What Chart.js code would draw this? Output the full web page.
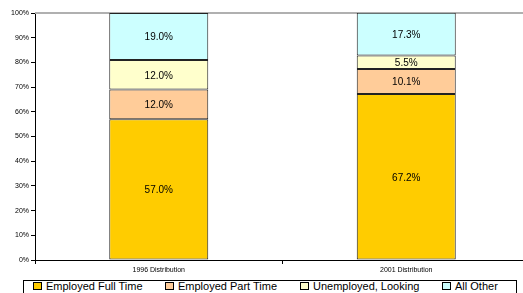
<!DOCTYPE html>
<html lang="en">
<head>
    <meta charset="UTF-8">
    <title>Distribution</title>
    <script src="https://cdn.jsdelivr.net/npm/chart.js"></script>
    <style>
        body {
            margin: 0;
            width: 523px;
            height: 293px;
            overflow: hidden;
            background: white;
            font-family: 'Liberation Sans', Arial, sans-serif;
            position: relative;
        }
        #wrap {
            position: absolute;
            left: 0;
            top: 0;
            width: 530px;
            height: 293px;
        }
        #legend {
            position: absolute;
            left: 23px;
            top: 280px;
            width: 494px;
            height: 20px;
            border: 1px solid #000;
            box-sizing: border-box;
            background: white;
            font-size: 11px;
            line-height: 11px;
            color: #000;
        }
        .item {
            position: absolute;
            top: 0;
            white-space: nowrap;
        }
        .sw {
            display: inline-block;
            width: 7px;
            height: 6px;
            border: 1px solid #000;
            margin-right: 4px;
            vertical-align: 0px;
        }
    </style>
</head>
<body>
    <div id="wrap"><canvas id="chart" width="530" height="293"></canvas></div>
    <div id="legend"></div>

    <script>
        const categories = ['1996 Distribution', '2001 Distribution'];
        const seriesNames = ['Employed Full Time', 'Employed Part Time', 'Unemployed, Looking', 'All Other'];
        const fullTime = [57.0, 67.2];
        const partTime = [12.0, 10.1];
        const unemployed = [12.0, 5.5];
        const allOther = [19.0, 17.3];
        const colors = ['#FFCC00', '#FFCC99', '#FFFFCC', '#CCFFFF'];
        const legendX = [9, 141, 276, 418];

        const seriesData = [fullTime, partTime, unemployed, allOther];

        const legend = document.getElementById('legend');
        seriesNames.forEach((name, i) => {
            const div = document.createElement('div');
            div.className = 'item';
            div.style.left = legendX[i] + 'px';
            div.innerHTML = '<span class="sw" style="background:' + colors[i] + '"></span>' + name;
            legend.appendChild(div);
        });

        const barLabels = {
            id: 'barLabels',
            afterDatasetsDraw(chart) {
                const ctx = chart.ctx;
                ctx.save();
                ctx.font = '10px "Liberation Sans", Arial, sans-serif';
                ctx.fillStyle = '#000';
                ctx.textAlign = 'center';
                ctx.textBaseline = 'middle';
                chart.data.datasets.forEach((ds, i) => {
                    chart.getDatasetMeta(i).data.forEach((bar, j) => {
                        const mid = (bar.y + bar.base) / 2;
                        ctx.fillText(ds.data[j].toFixed(1) + '%', bar.x, mid + 1);
                    });
                });
                ctx.restore();
            }
        };

        const topLine = {
            id: 'topLine',
            beforeDatasetsDraw(chart) {
                const a = chart.chartArea;
                const ctx = chart.ctx;
                ctx.save();
                ctx.strokeStyle = '#b0b0b0';
                ctx.lineWidth = 2;
                ctx.beginPath();
                ctx.moveTo(a.left, a.top);
                ctx.lineTo(a.right, a.top);
                ctx.stroke();
                ctx.restore();
            }
        };

        new Chart(document.getElementById('chart'), {
            type: 'bar',
            data: {
                labels: categories,
                datasets: seriesData.map((d, i) => ({
                    label: seriesNames[i],
                    data: d,
                    backgroundColor: colors[i],
                    borderColor: '#222',
                    borderWidth: 1,
                    borderSkipped: false,
                    categoryPercentage: 1.0,
                    barPercentage: 0.4
                }))
            },
            options: {
                responsive: false,
                animation: false,
                layout: { padding: { top: 13, left: 0, right: 0, bottom: 0 } },
                plugins: {
                    legend: { display: false },
                    tooltip: { enabled: false }
                },
                scales: {
                    x: {
                        stacked: true,
                        afterFit: s => { s.height = 33; },
                        grid: {
                            offset: true,
                            drawOnChartArea: false,
                            tickLength: 4,
                            color: '#000'
                        },
                        border: { color: '#000', width: 1 },
                        ticks: {
                            color: '#000',
                            font: { size: 7, family: '"Liberation Sans", Arial' },
                            padding: 2
                        }
                    },
                    y: {
                        stacked: true,
                        min: 0,
                        max: 100,
                        afterFit: s => { s.width = 35; },
                        grid: {
                            drawOnChartArea: false,
                            tickLength: 4,
                            color: '#000'
                        },
                        border: { color: '#000', width: 1 },
                        ticks: {
                            stepSize: 10,
                            color: '#000',
                            padding: 2,
                            font: { size: 7, family: '"Liberation Sans", Arial' },
                            callback: v => v + '%'
                        }
                    }
                }
            },
            plugins: [topLine, barLabels]
        });
    </script>
</body>
</html>
